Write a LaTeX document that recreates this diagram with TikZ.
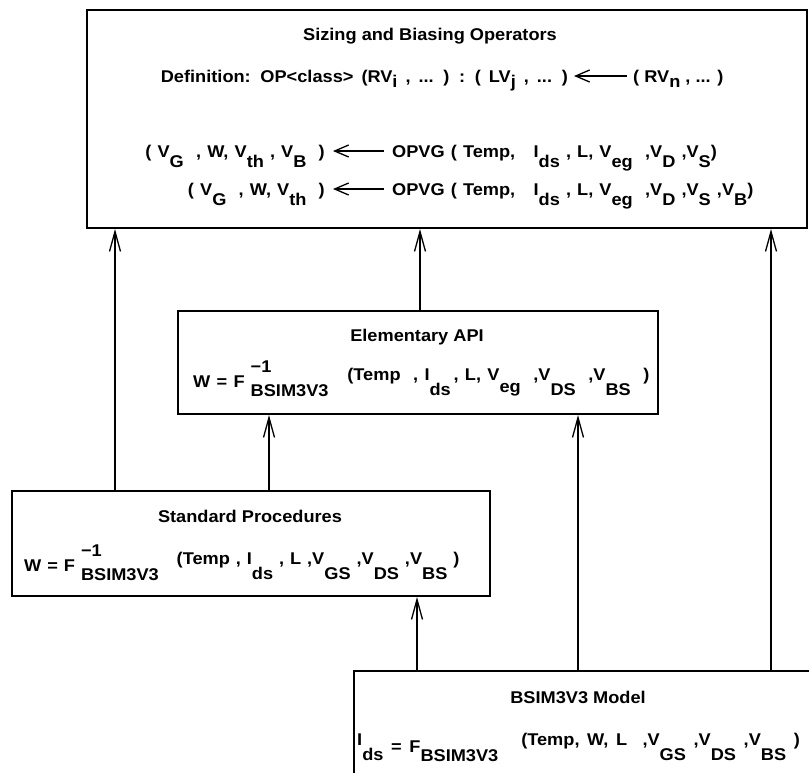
\documentclass[tikz,border=0pt]{standalone}
\usepackage{fontspec}
\setmainfont{Liberation Sans}[FakeStretch=1.07]
\usetikzlibrary{arrows.meta}
% lowered / raised pieces of the formulas
\newcommand\dn[2][10pt]{\raisebox{-#1}{#2}}
\newcommand\up[2][7pt]{\raisebox{#1}{#2}}
% wider word spaces inside formulas
\newcommand\wsp[1]{\spaceskip=#1\relax}
% F^{-1} with the model name set below it
\newcommand\Finv{F\hspace{6pt}\rlap{\raisebox{15pt}{−1}}\dn[9pt]{BSIM3V3}}

\begin{document}
\begin{tikzpicture}[x=1pt,y=-1pt,
  box/.style={draw, line width=2pt, inner sep=0, anchor=north west},
  txt/.style={inner sep=0, font=\fontsize{17}{20}\bfseries\selectfont},
  link/.style={line width=1.3pt, -{Straight Barb[length=20pt,width=11pt,line width=1.3pt]}},
  tarr/.style={line width=1.3pt, -{Straight Barb[length=14pt,width=12pt,line width=1.3pt]}}]
\clip (0,0) rectangle (809,772);

% boxes
\node[box, minimum width=720, minimum height=218] (ops) at (86,9) {};
\node[box, minimum width=480, minimum height=103] (api) at (177,310) {};
\node[box, minimum width=478, minimum height=105] (std) at (11,490) {};
\node[box, minimum width=480, minimum height=130] (mdl) at (353,670) {};

% operators box
\node[txt, anchor=base] (opt) at (430,40) {Sizing and Biasing Operators};
\node[txt, anchor=base east] (defl) at (568,82)
  {\wsp{0.47em}Definition: OP<class> (RV\dn[5pt]{i}\ , ... ) : ( LV\dn[5pt]{j}\ , ... )};
\node[txt, anchor=base west] (defr) at (633,82) {( RV\dn[5pt]{n}\ , ... )};
\draw[tarr] ([xshift=-6pt,yshift=6pt]defr.base west) -- ([xshift=6pt,yshift=6pt]defl.base east);

\node[txt, anchor=base east] (l1) at (325,157)
  {\wsp{0.36em}( V\dn{G}\ \ , W, V\dn{th}\ , V\dn{B}\ \ )};
\node[txt, anchor=base west] (r1) at (392,157)
  {\wsp{0.36em}OPVG ( Temp,\ \ \ I\dn{ds}\ , L, V\dn{eg}\ \ ,V\dn{D}\ ,V\dn{S})};
\draw[tarr] ([xshift=-8pt,yshift=6pt]r1.base west) -- ([xshift=8pt,yshift=6pt]l1.base east);

\node[txt, anchor=base east] (l2) at (325,195)
  {\wsp{0.36em}( V\dn{G}\ \ , W, V\dn{th}\ \ )};
\node[txt, anchor=base west] (r2) at (392,195)
  {\wsp{0.36em}OPVG ( Temp,\ \ \ I\dn{ds}\ , L, V\dn{eg}\ \ ,V\dn{D}\ ,V\dn{S}\ ,V\dn{B})};
\draw[tarr] ([xshift=-8pt,yshift=6pt]r2.base west) -- ([xshift=8pt,yshift=6pt]l2.base east);

% elementary API box
\node[txt, anchor=base] (apit) at (417,341) {Elementary API};
\node[txt, anchor=base west] (apif) at (193,387)
  {\wsp{0.37em}W = \Finv\ \ \ \up{(Temp\ \ , I\dn[15pt]{ds}\,, L, V\dn[12pt]{eg}\ \ ,V\dn[15pt]{DS}\ \ ,V\dn[15pt]{BS}\ \ )}};

% standard procedures box
\node[txt, anchor=base] (stdt) at (250,522) {Standard Procedures};
\node[txt, anchor=base west] (stdf) at (24,571)
  {\wsp{0.35em}W = \Finv\ \ \ \up{(Temp , I\dn[15pt]{ds}\ , L ,V\dn[15pt]{GS}\ ,V\dn[15pt]{DS}\ ,V\dn[15pt]{BS}\ )}};

% model box
\node[txt, anchor=base] (mdlt) at (578,703) {BSIM3V3 Model};
\node[txt, anchor=base west] (mdlf) at (357,752)
  {\wsp{0.45em}\up{I}\dn[8pt]{ds} = F\dn[9pt]{BSIM3V3}\ \ \ \up{(Temp, W, L\ \ ,V\dn[15pt]{GS}\ ,V\dn[15pt]{DS}\ ,V\dn[15pt]{BS}\ )}};

% connectors
\coordinate (xa) at (115,0);
\coordinate (xb) at (420,0);
\coordinate (xc) at (771,0);
\coordinate (xd) at (269,0);
\coordinate (xe) at (578,0);
\coordinate (xf) at (417,0);
\draw[link] (std.north -| xa) -- (ops.south -| xa);
\draw[link] (api.north -| xb) -- (ops.south -| xb);
\draw[link] (mdl.north -| xc) -- (ops.south -| xc);
\draw[link] (std.north -| xd) -- (api.south -| xd);
\draw[link] (mdl.north -| xe) -- (api.south -| xe);
\draw[link] (mdl.north -| xf) -- (std.south -| xf);
\end{tikzpicture}
\end{document}
